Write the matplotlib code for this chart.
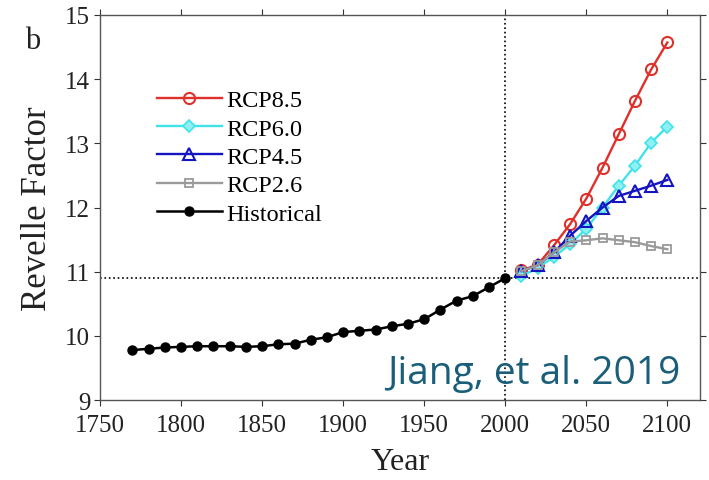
import matplotlib
matplotlib.use("Agg")
import matplotlib.pyplot as plt

plt.rcParams['font.family'] = ['Liberation Serif', 'DejaVu Serif']

hist_years = [1770, 1780, 1790, 1800, 1810, 1820, 1830, 1840, 1850, 1860,
              1870, 1880, 1890, 1900, 1910, 1920, 1930, 1940, 1950, 1960,
              1970, 1980, 1990, 2000]
hist_rf = [9.78, 9.80, 9.82, 9.83, 9.84, 9.84, 9.84, 9.83, 9.84, 9.87,
           9.88, 9.94, 9.98, 10.06, 10.08, 10.10, 10.15, 10.19, 10.26, 10.41,
           10.55, 10.62, 10.76, 10.90]

future_years = [2010, 2020, 2030, 2040, 2050, 2060, 2070, 2080, 2090, 2100]
rcp85 = [11.02, 11.11, 11.41, 11.74, 12.14, 12.62, 13.14, 13.66, 14.15, 14.57]
rcp60 = [10.93, 11.06, 11.23, 11.43, 11.67, 12.00, 12.34, 12.65, 13.01, 13.26]
rcp45 = [11.01, 11.10, 11.30, 11.56, 11.79, 12.00, 12.18, 12.26, 12.34, 12.43]
rcp26 = [11.01, 11.10, 11.30, 11.47, 11.49, 11.52, 11.49, 11.46, 11.40, 11.35]

ref_year = 2000
ref_rf = 10.9

fig = plt.figure(figsize=(7.09, 4.81), dpi=100)
ax = fig.add_axes([0.141, 0.166, 0.846, 0.801])

ax.axvline(ref_year, color='black', linestyle=':', linewidth=1.2, zorder=1)
ax.axhline(ref_rf, color='black', linestyle=':', linewidth=1.2, zorder=1)

ax.plot(future_years, rcp85, color='#e0302a', marker='o', markersize=8,
        markerfacecolor='none', markeredgewidth=1.5, linewidth=1.7, label='RCP8.5')
ax.plot(future_years, rcp60, color='#3fe3ea', marker='D', markersize=6.5,
        markerfacecolor='#8ff0f4', markeredgewidth=1.2, linewidth=1.7, label='RCP6.0')
ax.plot(future_years, rcp45, color='#1414c0', marker='^', markersize=8,
        markerfacecolor='none', markeredgewidth=1.5, linewidth=1.7, label='RCP4.5')
ax.plot(future_years, rcp26, color='#9a9a9a', marker='s', markersize=5.5,
        markerfacecolor='none', markeredgewidth=1.3, linewidth=1.7, label='RCP2.6')
ax.plot(hist_years, hist_rf, color='black', marker='o', markersize=6.5,
        linewidth=1.8, label='Historical')

ax.set_xlim(1750, 2120)
ax.set_ylim(9, 15)
ax.set_xticks(range(1750, 2101, 50))
ax.set_yticks(range(9, 16))
ax.tick_params(direction='out', top=True, right=True, labelsize=18,
               length=4, width=0.8, colors='#333333', labelcolor='#222222')
ax.tick_params(axis='x', pad=6)
ax.tick_params(axis='y', pad=3)
for s in ax.spines.values():
    s.set_color('#555555')
    s.set_linewidth(1.0)

ax.set_xlabel('Year', fontsize=23, color='#222222', labelpad=8)
ax.set_ylabel('Revelle Factor', fontsize=25, color='#222222', labelpad=8)

ax.legend(loc='upper left', bbox_to_anchor=(0.095, 0.807), frameon=False,
          fontsize=17.5, handlelength=2.67, handletextpad=0.2, labelspacing=0.26,
          borderpad=0, borderaxespad=0)

fig.text(0.035, 0.898, 'b', fontsize=22, color='#222222')
ax.text(2108, 9.27, 'Jiang, et al. 2019', fontsize=28, color='#1a5e7a',
        family=['Open Sans', 'DejaVu Sans'], ha='right', va='baseline')

fig.savefig('out.png', dpi=100)
